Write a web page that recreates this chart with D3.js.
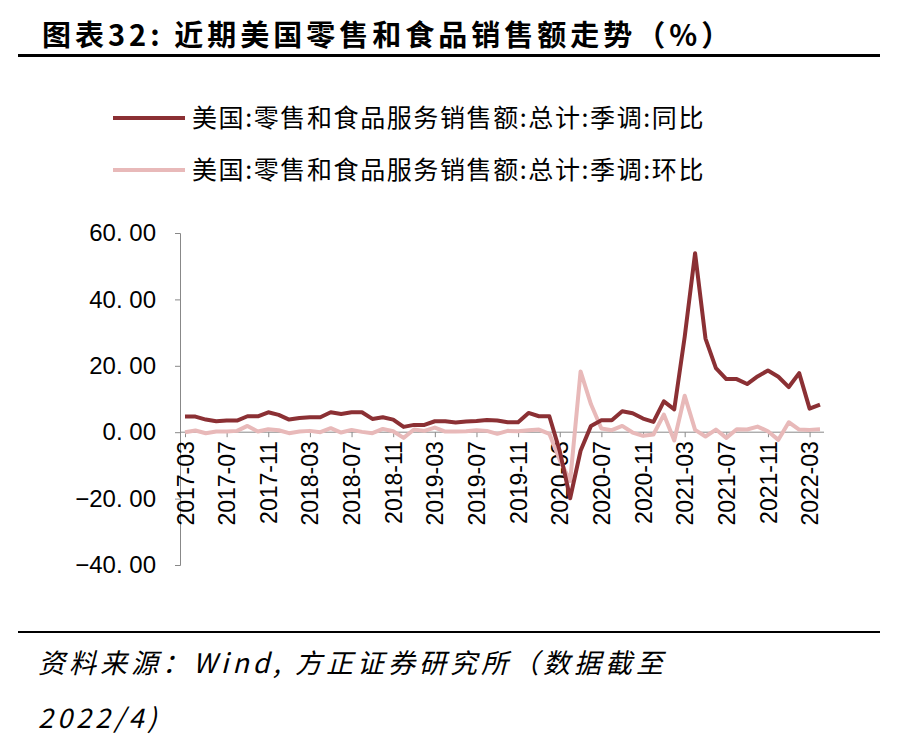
<!DOCTYPE html><html><head><meta charset="utf-8"><script src="https://cdn.jsdelivr.net/npm/d3@7"></script>
<style>body{margin:0;background:#fff}</style></head><body><svg id="c" width="897" height="739"></svg>
<script>
const startYear=2017,startMonth=3;
const yoy=[4.7,4.7,3.8,3.3,3.5,3.5,4.8,4.8,6.0,5.2,3.8,4.3,4.5,4.5,6.0,5.5,6.0,6.0,4.0,4.5,3.8,1.6,2.2,2.2,3.3,3.3,2.9,3.2,3.4,3.7,3.5,3.0,3.0,5.8,4.8,4.8,-5.7,-19.9,-5.6,1.9,3.6,3.6,6.3,5.7,4.1,3.1,9.3,6.9,28.7,53.9,28.2,19.3,16.0,16.0,14.5,16.8,18.6,16.7,13.6,17.8,7.1,8.3];
const mom=[0.0,0.5,-0.3,0.2,0.2,0.4,1.9,0.2,0.9,0.6,-0.3,0.2,0.4,0.0,1.2,-0.1,0.7,0.1,-0.3,1.0,0.3,-1.7,0.8,0.4,1.4,0.2,0.2,0.3,0.6,0.4,-0.5,0.4,0.3,0.6,0.8,-0.5,-8.4,-14.7,18.3,8.4,1.1,0.6,1.9,-0.1,-1.1,-0.7,5.3,-2.5,11.0,0.7,-1.3,0.8,-1.7,0.9,0.8,1.7,0.3,-2.3,3.0,0.8,0.7,0.9];
const yTicks=[60,40,20,0,-20,-40];
const seriesNames=["美国:零售和食品服务销售额:总计:季调:同比","美国:零售和食品服务销售额:总计:季调:环比"];
const colors=["#8b3034","#e8b9b9"];
const labels=yoy.map((d,i)=>{const m=startMonth-1+i;return (startYear+Math.floor(m/12))+"-"+String(m%12+1).padStart(2,"0");});
const svg=d3.select("#c");
svg.append("text").attr("x",42).attr("y",46).attr("font-family","Noto Sans CJK SC").attr("font-weight","bold").attr("font-size",29).attr("letter-spacing",4).text("图表32:  近期美国零售和食品销售额走势（%）");
svg.append("rect").attr("x",18).attr("y",54).attr("width",862).attr("height",3).attr("fill","#000");
svg.append("rect").attr("x",18).attr("y",631).attr("width",862).attr("height",2).attr("fill","#000");
const x=d3.scaleLinear().domain([0,labels.length-1]).range([185,820]);
const y=d3.scaleLinear().domain([-40,60]).range([565,233]);
const ya=svg.append("g").attr("transform","translate(180,0)").call(d3.axisLeft(y).tickValues(yTicks).tickSize(5).tickFormat(d=>d3.format(".2f")(d).replace(".",". ")));
ya.select(".domain").attr("stroke","#888");ya.selectAll("line").attr("stroke","#888");
ya.selectAll("text").attr("font-family","Liberation Sans").attr("font-size",24).attr("fill","#000").attr("x",-24);
svg.append("line").attr("x1",180).attr("x2",x(labels.length-1)+4).attr("y1",y(0)).attr("y2",y(0)).attr("stroke","#888");
const idx=d3.range(0,labels.length,4);
const xa=svg.append("g").attr("transform",`translate(0,${y(0)})`).call(d3.axisBottom(x).tickValues(idx).tickSize(5).tickFormat(i=>labels[i]));
xa.select(".domain").remove();xa.selectAll("line").attr("stroke","#888");
xa.selectAll("text").attr("font-family","Liberation Sans").attr("font-size",23).attr("fill","#000").attr("transform","rotate(-90)").attr("text-anchor","end").attr("x",-9).attr("y",0).attr("dy","0.35em");
const line=d3.line().x((d,i)=>x(i)).y(d=>y(d));
[mom,yoy].forEach((s,k)=>svg.append("path").datum(s).attr("d",line).attr("fill","none").attr("stroke",colors[1-k]).attr("stroke-width",4).attr("stroke-linejoin","round"));
seriesNames.forEach((n,i)=>{const yy=118+i*52;
svg.append("line").attr("x1",113).attr("x2",185).attr("y1",yy).attr("y2",yy).attr("stroke",colors[i]).attr("stroke-width",4);
svg.append("text").attr("x",192).attr("y",yy+9).attr("font-family","Noto Sans CJK SC").attr("font-size",25).attr("letter-spacing",1.6).text(n);});
svg.append("text").attr("x",38).attr("y",673).attr("font-family","Noto Sans CJK SC").attr("font-style","italic").attr("font-size",27).attr("letter-spacing",4).text("资料来源：Wind, 方正证券研究所（数据截至");
svg.append("text").attr("x",38).attr("y",728).attr("font-family","Noto Sans CJK SC").attr("font-style","italic").attr("font-size",27).attr("letter-spacing",4).text("2022/4)");
</script></body></html>
